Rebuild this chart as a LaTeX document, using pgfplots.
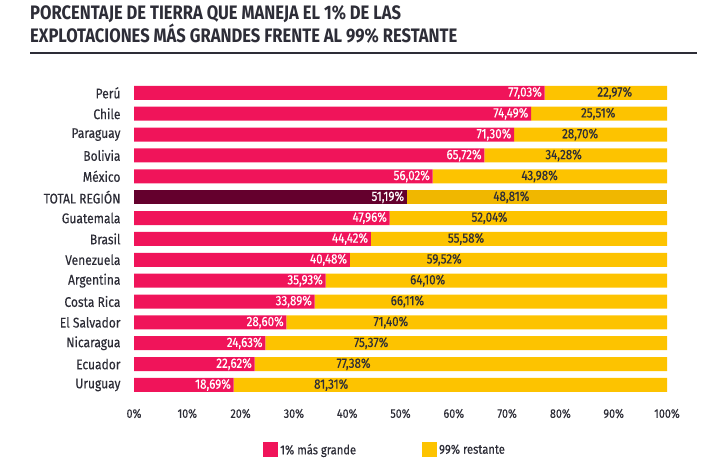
\documentclass[border=0pt]{standalone}
\usepackage{pgfplots}
\usepackage{pgfplotstable}
\pgfplotsset{compat=1.18}
\usepackage{fontspec}
\setmainfont{Fira Sans}[FakeStretch=0.85]
\newfontfamily\medfont{Fira Sans}[FakeStretch=0.86, FakeBold=0.35]
\definecolor{pinkc}{RGB}{240,20,90}
\definecolor{darkc}{RGB}{100,0,45}
\definecolor{yelc}{RGB}{253,195,0}
\definecolor{dyelc}{RGB}{240,183,0}
\definecolor{txt}{RGB}{45,45,55}

\pgfplotstableread{
y  a1     a2     b1     b2     pa     pb     lx
14 77.03  0      22.97  0      77.03  22.97  90.2
13 74.49  0      25.51  0      74.49  25.51  87.1
12 71.30  0      28.70  0      71.30  28.70  83.7
11 65.72  0      34.28  0      65.72  34.28  80.6
10 56.02  0      43.98  0      56.02  43.98  76.1
9  0      51.19  0      48.81  51.19  48.81  70.8
8  47.96  0      52.04  0      47.96  52.04  66.7
7  44.42  0      55.58  0      44.42  55.58  62.3
6  40.48  0      59.52  0      40.48  59.52  58.2
5  35.93  0      64.10  0      35.93  64.10  55.1
4  33.89  0      66.11  0      33.89  66.11  51.3
3  28.60  0      71.40  0      28.60  71.40  48.2
2  24.63  0      75.37  0      24.63  75.37  44.5
1  22.62  0      77.38  0      22.62  77.38  41.2
0  18.69  0      81.31  0      18.69  81.31  37.0
}\datatable

\begin{document}
\begin{tikzpicture}
\path[use as bounding box] (0,0) rectangle (720pt,-464pt);
\node[anchor=west, inner sep=0pt, text=txt, font=\bfseries\fontsize{19.5}{22}\selectfont, align=left] at (30pt,-14pt) {PORCENTAJE DE TIERRA QUE MANEJA EL 1\% DE LAS};
\node[anchor=west, inner sep=0pt, text=txt, font=\bfseries\fontsize{19.5}{22}\selectfont, align=left] at (30pt,-34pt) {EXPLOTACIONES MÁS GRANDES FRENTE AL 99\% RESTANTE};
\draw[line width=1.2pt, color=txt] (30pt,-53pt) -- (697pt,-53pt);

\begin{axis}[
  at={(134pt,-395.4pt)}, anchor=south west,
  scale only axis, width=533pt, height=313pt,
  xmin=0, xmax=100, ymin=-0.5, ymax=14.5,
  xbar stacked, bar width=14pt,
  axis line style={draw=none},
  major tick length=0pt,
  xtick={0,10,...,100},
  xticklabel={\pgfmathprintnumber{\tick}\%},
  /pgf/number format/assume math mode=true,
  xticklabel style={font=\medfont\fontsize{12.5}{14}\selectfont, text=txt, yshift=-10pt},
  ytick={0,...,14},
  yticklabels={Uruguay,Ecuador,Nicaragua,El Salvador,Costa Rica,Argentina,Venezuela,Brasil,Guatemala,TOTAL REGIÓN,México,Bolivia,Paraguay,Chile,Perú},
  yticklabel style={font=\medfont\fontsize{14}{16}\selectfont, text=txt, xshift=-10pt},
  legend style={draw=none, at={(0.471,-0.174)}, anchor=center, font=\medfont\fontsize{13}{15}\selectfont, text=txt,
    legend columns=2, /tikz/every even column/.append style={column sep=64pt}},
  legend image code/.code={\fill[#1] (0pt,-7.5pt) rectangle (15pt,7.5pt);},
]
\addplot[fill=pinkc, draw=none] table[x=a1, y=y] {\datatable};
\addlegendentry{1\% más grande}
\addplot[fill=darkc, draw=none, forget plot] table[x=a2, y=y] {\datatable};
\addplot[fill=yelc, draw=none] table[x=b1, y=y] {\datatable};
\addlegendentry{99\% restante}
\addplot[fill=dyelc, draw=none, forget plot] table[x=b2, y=y] {\datatable};
\end{axis}

\begin{axis}[
  at={(134pt,-395.4pt)}, anchor=south west,
  scale only axis, width=533pt, height=313pt,
  xmin=0, xmax=100, ymin=-0.5, ymax=14.5,
  hide axis,
]
\addplot[draw=none, mark=none, point meta=explicit,
  nodes near coords={\pgfmathprintnumber[fixed, fixed zerofill, precision=2, use comma, assume math mode=true]{\pgfplotspointmeta}\%},
  nodes near coords style={anchor=east, text=white, font=\medfont\fontsize{13.5}{15}\selectfont, inner sep=2.5pt}]
  table[x=pa, y=y, meta=pa] {\datatable};
\addplot[draw=none, mark=none, point meta=explicit,
  nodes near coords={\pgfmathprintnumber[fixed, fixed zerofill, precision=2, use comma, assume math mode=true]{\pgfplotspointmeta}\%},
  nodes near coords style={anchor=center, text=txt, font=\medfont\fontsize{13.5}{15}\selectfont}]
  table[x=lx, y=y, meta=pb] {\datatable};
\end{axis}
\end{tikzpicture}
\end{document}
